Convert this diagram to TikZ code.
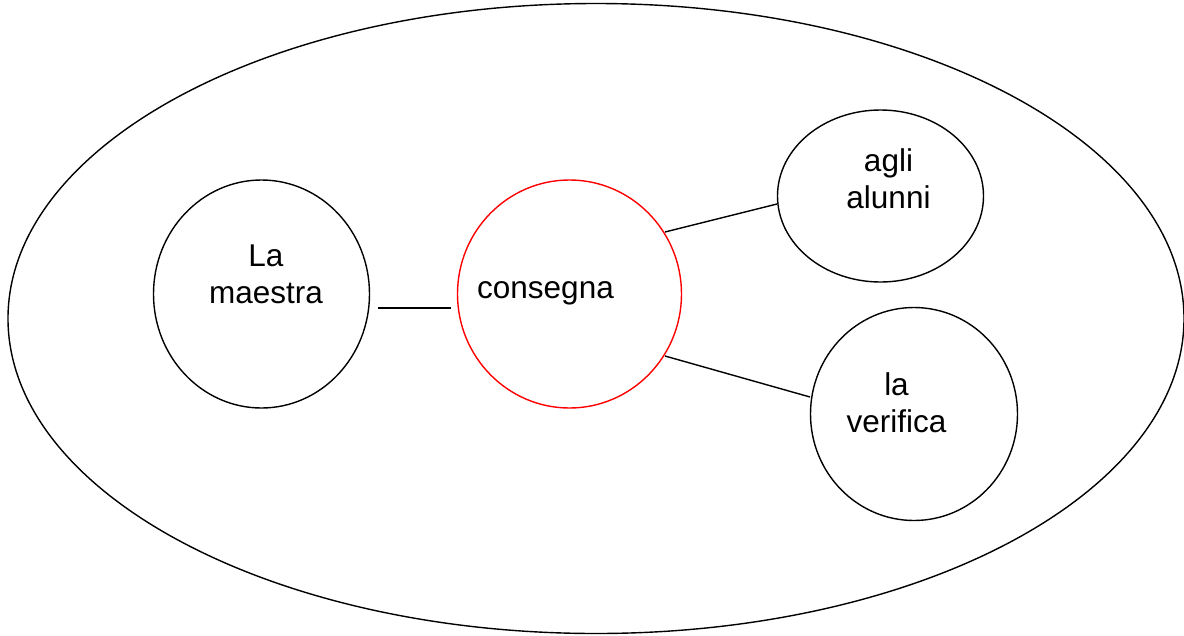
\documentclass[tikz,border=0pt]{standalone}
\usepackage{fontspec}
\setmainfont{Liberation Sans}
\usetikzlibrary{shapes.geometric}
\begin{document}
\begin{tikzpicture}[x=1pt,y=-1pt,
  bubble/.style={draw,ellipse,line width=1.4pt,inner sep=0pt},
  lbl/.style={font=\fontsize{31.5}{37}\selectfont,align=center,inner sep=0pt,anchor=base},
  conn/.style={line width=1.4pt}]
\useasboundingbox (0,0) rectangle (1184,635);
\node[draw,ellipse,line width=1.4pt,minimum width=1176pt,minimum height=630pt] (outer) at (596,318.5) {};
\node[bubble,minimum width=216pt,minimum height=228pt] (maestra) at (261.5,294) {};
\node[bubble,draw=red,minimum width=224pt,minimum height=228pt] (consegna) at (569.5,294) {};
\node[bubble,minimum width=206pt,minimum height=172pt] (alunni) at (880.5,196) {};
\node[bubble,minimum width=207pt,minimum height=213pt] (verifica) at (914,414) {};
\node[lbl] (tmaestra) at (266,303) {La\\maestra};
\node[lbl] (tconsegna) at (545.5,298) {consegna};
\node[lbl] (talunni) at (888.5,208) {agli\\alunni};
\node[lbl] (tverifica) at (896.5,432) {la\\verifica};
\coordinate (a1) at (378,308);
\coordinate (a2) at (451,308);
\coordinate (b1) at (665,232);
\coordinate (b2) at (777,204);
\coordinate (c1) at (665,356);
\coordinate (c2) at (810,397);
\draw[conn] (a1) -- (a2);
\draw[conn] (b1) -- (b2);
\draw[conn] (c1) -- (c2);
\end{tikzpicture}
\end{document}
